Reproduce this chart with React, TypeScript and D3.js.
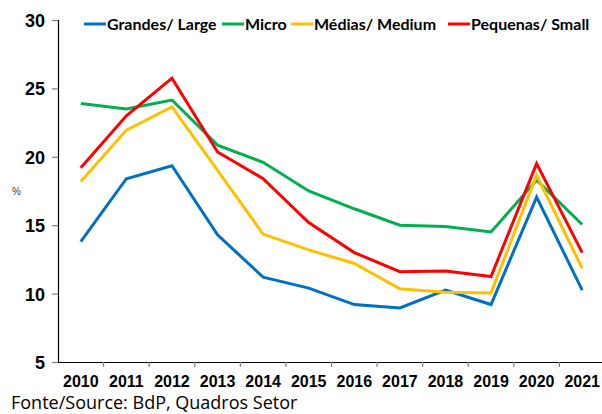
import * as d3 from "d3";
import { useEffect, useRef } from "react";

const years = ["2010", "2011", "2012", "2013", "2014", "2015", "2016", "2017", "2018", "2019", "2020", "2021"];
const grandes = [13.8, 18.4, 19.35, 14.3, 11.2, 10.4, 9.2, 8.95, 10.25, 9.2, 17.05, 10.25];
const micro = [23.9, 23.5, 24.15, 20.85, 19.6, 17.5, 16.2, 15.0, 14.9, 14.5, 18.3, 15.05];
const medias = [18.2, 21.95, 23.65, 19.0, 14.35, 13.2, 12.2, 10.35, 10.1, 10.05, 18.65, 11.85];
const pequenas = [19.2, 23.0, 25.75, 20.35, 18.4, 15.2, 13.0, 11.6, 11.65, 11.25, 19.5, 13.0];
const yTicks = [5, 10, 15, 20, 25, 30];

const series = [
	{ name: "Grandes/ Large", values: grandes, color: "#0070C0" },
	{ name: "Micro", values: micro, color: "#00B050" },
	{ name: "Médias/ Medium", values: medias, color: "#FFC000" },
	{ name: "Pequenas/ Small", values: pequenas, color: "#FF0000" },
];

export default function App() {
	const ref = useRef<SVGSVGElement>(null);

	useEffect(() => {
		const svg = d3.select(ref.current);
		svg.selectAll("*").remove();

		const left = 58, top = 20, bottom = 362, right = 605;
		const x = d3.scaleBand().domain(years).range([left, right]);
		const y = d3.scaleLinear().domain([5, 30]).range([bottom, top]);

		// y axis
		const yAxis = svg.append("g").attr("transform", `translate(${left},0)`).call(d3.axisLeft(y).tickValues(yTicks).tickSize(6).tickFormat(d3.format("d")));
		yAxis.select(".domain").attr("stroke", "#000").attr("stroke-width", 1.2);
		yAxis.selectAll(".tick line").attr("stroke", "#808080").attr("stroke-width", 1.2);
		yAxis.selectAll(".tick text").attr("x", -13).attr("dy", "0.36em").attr("fill", "#000").style("font", "bold 18px 'Liberation Sans', Arial, sans-serif");

		// x axis
		const xAxis = svg.append("g").attr("transform", `translate(0,${bottom})`).call(d3.axisBottom(x).tickSize(0).tickSizeOuter(0));
		xAxis.select(".domain").attr("stroke", "#000").attr("stroke-width", 1.2);
		xAxis.selectAll(".tick text").attr("y", 25).attr("dy", 0).attr("fill", "#000").style("font", "bold 16px 'Liberation Sans', Arial, sans-serif");
		xAxis.selectAll(".boundary").data(years.slice(1)).enter().append("line")
			.attr("x1", d => x(d)).attr("x2", d => x(d)).attr("y1", 0).attr("y2", 5)
			.attr("stroke", "#808080").attr("stroke-width", 1.2);

		// lines
		const line = d3.line<number>().x((_, i) => x(years[i])! + x.bandwidth() / 2).y(d => y(d));
		series.forEach(s => {
			svg.append("path").datum(s.values).attr("fill", "none").attr("stroke", s.color).attr("stroke-width", 3).attr("stroke-linejoin", "miter").attr("d", line);
		});

		// legend
		const legendX = [84, 222, 291, 448];
		const lg = svg.append("g").attr("transform", "translate(0,24)");
		series.forEach((s, i) => {
			lg.append("line").attr("x1", legendX[i]).attr("x2", legendX[i] + 22).attr("y1", 0).attr("y2", 0).attr("stroke", s.color).attr("stroke-width", 3);
			lg.append("text").attr("x", legendX[i] + 23).attr("y", 5.5).attr("fill", "#000").style("font", "bold 16px Lato, 'Open Sans', sans-serif").text(s.name);
		});

		// unit label
		svg.append("text").attr("x", 12).attr("y", 195).attr("fill", "#404040").style("font", "10px 'Liberation Sans', Arial, sans-serif").text("%");

		// source
		svg.append("text").attr("x", 11).attr("y", 409).attr("fill", "#000").style("font", "18px 'Open Sans', Lato, sans-serif").text("Fonte/Source: BdP, Quadros Setor");
	}, []);

	return <svg ref={ref} width={602} height={414} style={{ position: "absolute", left: 0, top: 0, background: "#fff" }}></svg>;
}
